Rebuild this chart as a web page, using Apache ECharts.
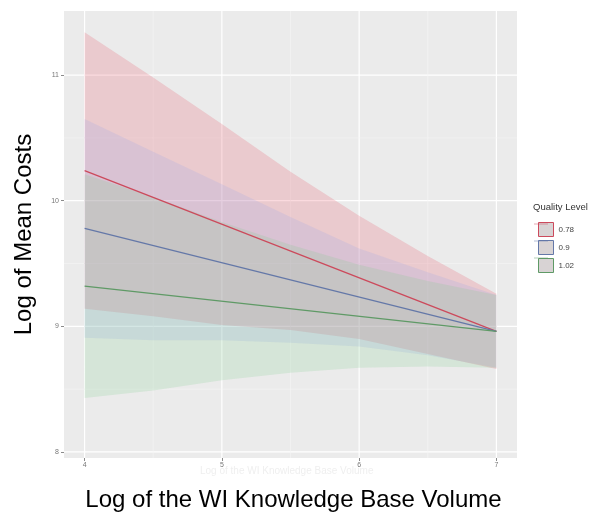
<!DOCTYPE html>
<html><head><meta charset="utf-8">
<script src="https://cdn.jsdelivr.net/npm/echarts@6/dist/echarts.min.js"></script>
<style>html,body{margin:0;padding:0;background:#fff}#c{width:595px;height:513px}</style>
</head><body><div id="c"></div>
<script>
// ---- data ----
const levels = ['0.78', '0.9', '1.02'];
const xTicks = [4, 5, 6, 7];
const yTicks = [8, 9, 10, 11];
const xMinor = [4.5, 5.5, 6.5];
const yMinor = [8.5, 9.5, 10.5];

const lineX = [4, 7];
const fit078 = [10.24, 8.96];
const fit090 = [9.78, 8.96];
const fit102 = [9.32, 8.96];

const bandX = [4, 4.5, 5, 5.5, 6, 6.5, 7];
const upper078 = [11.34, 10.98, 10.61, 10.23, 9.88, 9.56, 9.26];
const lower078 = [9.14, 9.08, 9.01, 8.97, 8.90, 8.78, 8.66];
const upper090 = [10.65, 10.39, 10.13, 9.87, 9.62, 9.43, 9.25];
const lower090 = [8.91, 8.89, 8.89, 8.87, 8.84, 8.77, 8.67];
const upper102 = [10.21, 10.03, 9.83, 9.65, 9.49, 9.36, 9.25];
const lower102 = [8.43, 8.49, 8.57, 8.63, 8.67, 8.68, 8.67];

// ---- styling ----
const X_MIN = 3.85, X_MAX = 7.15, Y_MIN = 7.952, Y_MAX = 11.51;
const lineColors = ['#cc4a5c', '#6478a8', '#5f9a66'];
const fillColors = ['rgba(230,70,90,0.2)', 'rgba(150,165,235,0.2)', 'rgba(125,205,140,0.2)'];
const FONT = 'Liberation Sans, Arial, sans-serif';

const fits = [fit078, fit090, fit102];
const uppers = [upper078, upper090, upper102];
const lowers = [lower078, lower090, lower102];

const series = [];
// gridlines (custom series under ribbons)
const gridItems = [];
xTicks.forEach(v => gridItems.push([v, 0, 1]));
yTicks.forEach(v => gridItems.push([v, 1, 1]));
xMinor.forEach(v => gridItems.push([v, 0, 0]));
yMinor.forEach(v => gridItems.push([v, 1, 0]));
series.push({
  type: 'custom', name: '_grid', z: 1, silent: true,
  data: gridItems, encode: {x: -1, y: -1},
  renderItem: function (params, api) {
    const v = api.value(0), horiz = api.value(1) === 1, major = api.value(2) === 1;
    let p1, p2;
    if (horiz) { p1 = api.coord([X_MIN, v]); p2 = api.coord([X_MAX, v]); }
    else { p1 = api.coord([v, Y_MIN]); p2 = api.coord([v, Y_MAX]); }
    return {type: 'line', shape: {x1: p1[0], y1: p1[1], x2: p2[0], y2: p2[1]},
      style: {stroke: major ? '#ffffff' : '#f5f5f5', lineWidth: major ? 1.2 : 0.6}};
  }
});

levels.forEach((lv, i) => {
  series.push({
    type: 'custom', name: '_band' + i, z: 2, silent: true,
    data: bandX.map((x, k) => [x, lowers[i][k], uppers[i][k]]),
    encode: {x: 0, y: [1, 2]},
    renderItem: function (params, api) {
      if (params.dataIndex !== 0) return null;
      const pts = [];
      for (let k = 0; k < bandX.length; k++) pts.push(api.coord([bandX[k], uppers[i][k]]));
      for (let k = bandX.length - 1; k >= 0; k--) pts.push(api.coord([bandX[k], lowers[i][k]]));
      return {type: 'polygon', shape: {points: pts}, style: {fill: fillColors[i]}};
    }
  });
});
levels.forEach((lv, i) => {
  series.push({
    type: 'line', name: lv, z: 3, symbol: 'none',
    lineStyle: {color: lineColors[i], width: 1.3},
    itemStyle: {color: lineColors[i]},
    data: lineX.map((x, k) => [x, fits[i][k]])
  });
});

const legTop = 217, legH = 14, legGap = 3;
const graphics = [
  {type: 'text', left: 533, top: 202, silent: true,
   style: {text: 'Quality Level', fontSize: 9.5, fill: '#333', fontFamily: FONT}},
  {type: 'text', left: 200, top: 466, silent: true,
   style: {text: 'Log of the WI Knowledge Base Volume', fontSize: 10, fill: '#efefef', fontFamily: FONT}}
];
levels.forEach((lv, i) => {
  const cy = legTop + i * (legH + legGap) + legH / 2;
  graphics.push({type: 'line', silent: true, z: 100,
    shape: {x1: 534, y1: cy, x2: 548, y2: cy},
    style: {stroke: lineColors[i], lineWidth: 0.8, opacity: 0.6}});
});

const chart = echarts.init(document.getElementById('c'), null, {renderer: 'canvas'});
chart.setOption({
  animation: false,
  backgroundColor: '#ffffff',
  textStyle: {fontFamily: FONT},
  grid: {left: 64, right: 78, top: 11, bottom: 55, show: true,
         backgroundColor: '#ebebeb', borderWidth: 0, containLabel: false, outerBoundsMode: 'none'},
  xAxis: {
    type: 'value', min: X_MIN, max: X_MAX,
    name: 'Log of the WI Knowledge Base Volume', nameLocation: 'middle', nameGap: 30,
    nameTextStyle: {fontSize: 24, color: '#000', fontFamily: FONT, padding: [0, 0, 0, 6]},
    axisLine: {show: false},
    axisTick: {show: true, length: 3, customValues: xTicks, lineStyle: {color: '#8a8a8a'}},
    axisLabel: {customValues: xTicks, fontSize: 7, color: '#777', margin: 4, fontFamily: FONT},
    splitLine: {show: false}
  },
  yAxis: {
    type: 'value', min: Y_MIN, max: Y_MAX,
    name: 'Log of Mean Costs', nameLocation: 'middle', nameGap: 28,
    nameTextStyle: {fontSize: 24, color: '#000', fontFamily: FONT},
    axisLine: {show: false},
    axisTick: {show: true, length: 3, customValues: yTicks, lineStyle: {color: '#8a8a8a'}},
    axisLabel: {customValues: yTicks, fontSize: 7, color: '#777', margin: 5, fontFamily: FONT},
    splitLine: {show: false}
  },
  legend: {
    orient: 'vertical', left: 533, top: legTop, itemWidth: 15, itemHeight: legH, itemGap: legGap,
    icon: 'rect', selectedMode: false,
    textStyle: {fontSize: 8, color: '#444', fontFamily: FONT},
    data: levels.map((n, i) => ({name: n, icon: 'rect',
      itemStyle: {color: '#d8d3d4', borderColor: lineColors[i], borderWidth: 1}}))
  },
  graphic: graphics,
  series: series
});
</script>
</body></html>
